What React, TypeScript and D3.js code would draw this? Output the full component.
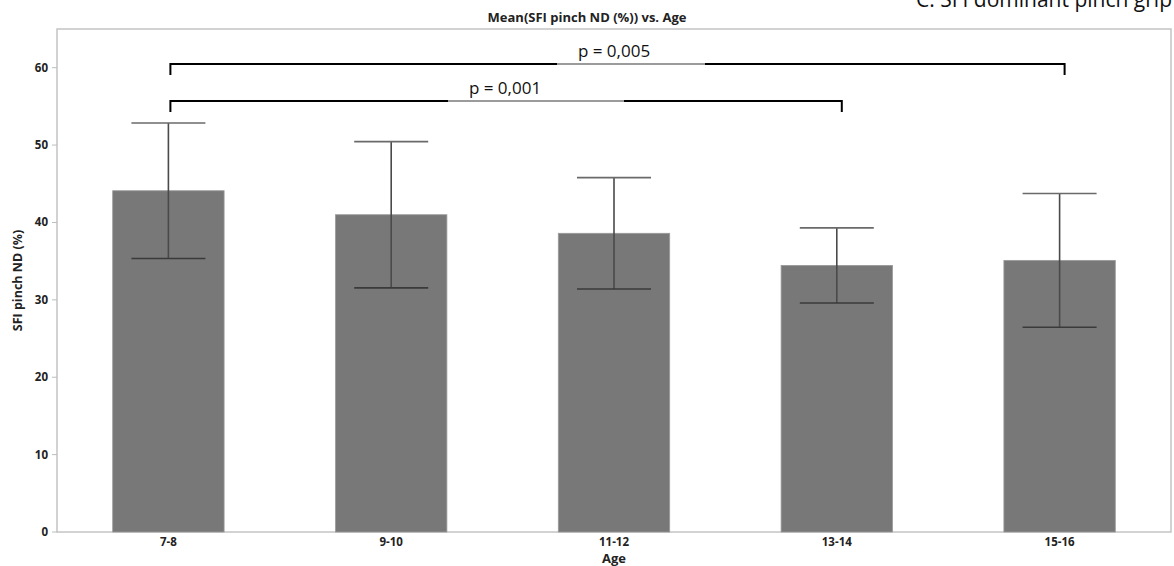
import React from "react";
import * as d3 from "d3";

// Age groups and SFI pinch (non-dominant) means with standard deviations
const ageGroups: string[] = ["7-8", "9-10", "11-12", "13-14", "15-16"];
const meanValues: number[] = [44.1, 41.0, 38.6, 34.45, 35.1];
const sdValues: number[] = [8.75, 9.45, 7.2, 4.85, 8.65];
const yTicks: number[] = [0, 10, 20, 30, 40, 50, 60];

// Significance brackets between age groups
const bracketFrom: string[] = ["7-8", "7-8"];
const bracketTo: string[] = ["15-16", "13-14"];
const bracketLevel: number[] = [60.5, 55.7];
const bracketLabels: string[] = ["p = 0,005", "p = 0,001"];

const W = 1174;
const H = 566;
const margin = { top: 29, right: 3, bottom: 34, left: 57 };

export default function App() {
  const x0 = margin.left;
  const x1 = W - margin.right;
  const y0 = H - margin.bottom;
  const y1 = margin.top;

  const x = d3.scaleBand<string>().domain(ageGroups).range([x0, x1]).paddingInner(0.5).paddingOuter(0.25);
  const y = d3.scaleLinear().domain([0, 65]).range([y0, y1]);

  const font = "'Open Sans', 'Noto Sans', sans-serif";
  const bw = x.bandwidth();
  const capHalf = 37;

  return (
    <div style={{ position: "fixed", left: 0, top: 0 }}>
      <svg width={W} height={H} style={{ display: "block", background: "#fff" }}>
        {/* caption, partly cropped at the top edge */}
        <text x={1172} y={7} textAnchor="end" fontFamily={font} fontSize={21} fill="#111">
          C. SFI dominant pinch grip
        </text>

        <text x={587} y={22} textAnchor="middle" fontFamily={font} fontWeight={700} fontSize={13} fill="#222">
          Mean(SFI pinch ND (%)) vs. Age
        </text>

        {/* frame */}
        <rect x={x0} y={y1} width={x1 - x0} height={y0 - y1} fill="none" stroke="#c4c4c4" strokeWidth={1.5} />

        {/* y axis */}
        {yTicks.map((t) => (
          <g key={t}>
            <line x1={x0 - 5} x2={x0} y1={y(t)} y2={y(t)} stroke="#bdbdbd" strokeWidth={1} />
            <text x={x0 - 9} y={y(t)} dy="0.35em" textAnchor="end" fontFamily={font} fontWeight={700} fontSize={11.5} fill="#222">
              {t}
            </text>
          </g>
        ))}
        <text
          transform={`translate(18,${(y0 + y1) / 2}) rotate(-90)`}
          textAnchor="middle"
          dy="0.35em"
          fontFamily={font}
          fontWeight={700}
          fontSize={12.5}
          fill="#222"
        >
          SFI pinch ND (%)
        </text>

        {/* bars */}
        {ageGroups.map((g, i) => (
          <rect
            key={g}
            x={x(g)!}
            y={y(meanValues[i])}
            width={bw}
            height={y(0) - y(meanValues[i])}
            fill="#787878"
            stroke="#9a9a9a"
            strokeWidth={0.8}
          />
        ))}

        {/* error bars */}
        {ageGroups.map((g, i) => {
          const cx = x(g)! + bw / 2;
          const hi = y(meanValues[i] + sdValues[i]);
          const lo = y(meanValues[i] - sdValues[i]);
          return (
            <g key={g} stroke="#4a4a4a" strokeWidth={1.6}>
              <line x1={cx} x2={cx} y1={hi} y2={lo} />
              <line x1={cx - capHalf} x2={cx + capHalf} y1={hi} y2={hi} stroke="#6a6a6a" />
              <line x1={cx - capHalf} x2={cx + capHalf} y1={lo} y2={lo} stroke="#3a3a3a" />
            </g>
          );
        })}

        {/* x axis labels */}
        {ageGroups.map((g) => (
          <text key={g} x={x(g)! + bw / 2} y={546} textAnchor="middle" fontFamily={font} fontWeight={700} fontSize={11.5} fill="#222">
            {g}
          </text>
        ))}
        <text x={(x0 + x1) / 2} y={563} textAnchor="middle" fontFamily={font} fontWeight={700} fontSize={13} fill="#222">
          Age
        </text>

        {/* significance brackets */}
        {bracketLabels.map((lab, i) => {
          const xa = x(bracketFrom[i])! + bw / 2 + 2;
          const xb = x(bracketTo[i])! + bw / 2 + 5;
          const yy = Math.round(y(bracketLevel[i]));
          const tx = i === 0 ? 614 : 505;
          const gapL = tx - 57;
          const gapR = tx + (i === 0 ? 91 : 119);
          return (
            <g key={lab}>
              <path d={`M${xa},${yy + 11}V${yy}H${gapL}`} fill="none" stroke="#000" strokeWidth={2} />
              <path d={`M${gapR},${yy}H${xb}V${yy + 11}`} fill="none" stroke="#000" strokeWidth={2} />
              <line x1={gapL} x2={gapR} y1={yy} y2={yy} stroke="#7a7a7a" strokeWidth={1.5} />
              <text x={tx} y={yy - 7} textAnchor="middle" fontFamily={font} fontSize={17} fill="#111">
                {lab}
              </text>
            </g>
          );
        })}
      </svg>
    </div>
  );
}
